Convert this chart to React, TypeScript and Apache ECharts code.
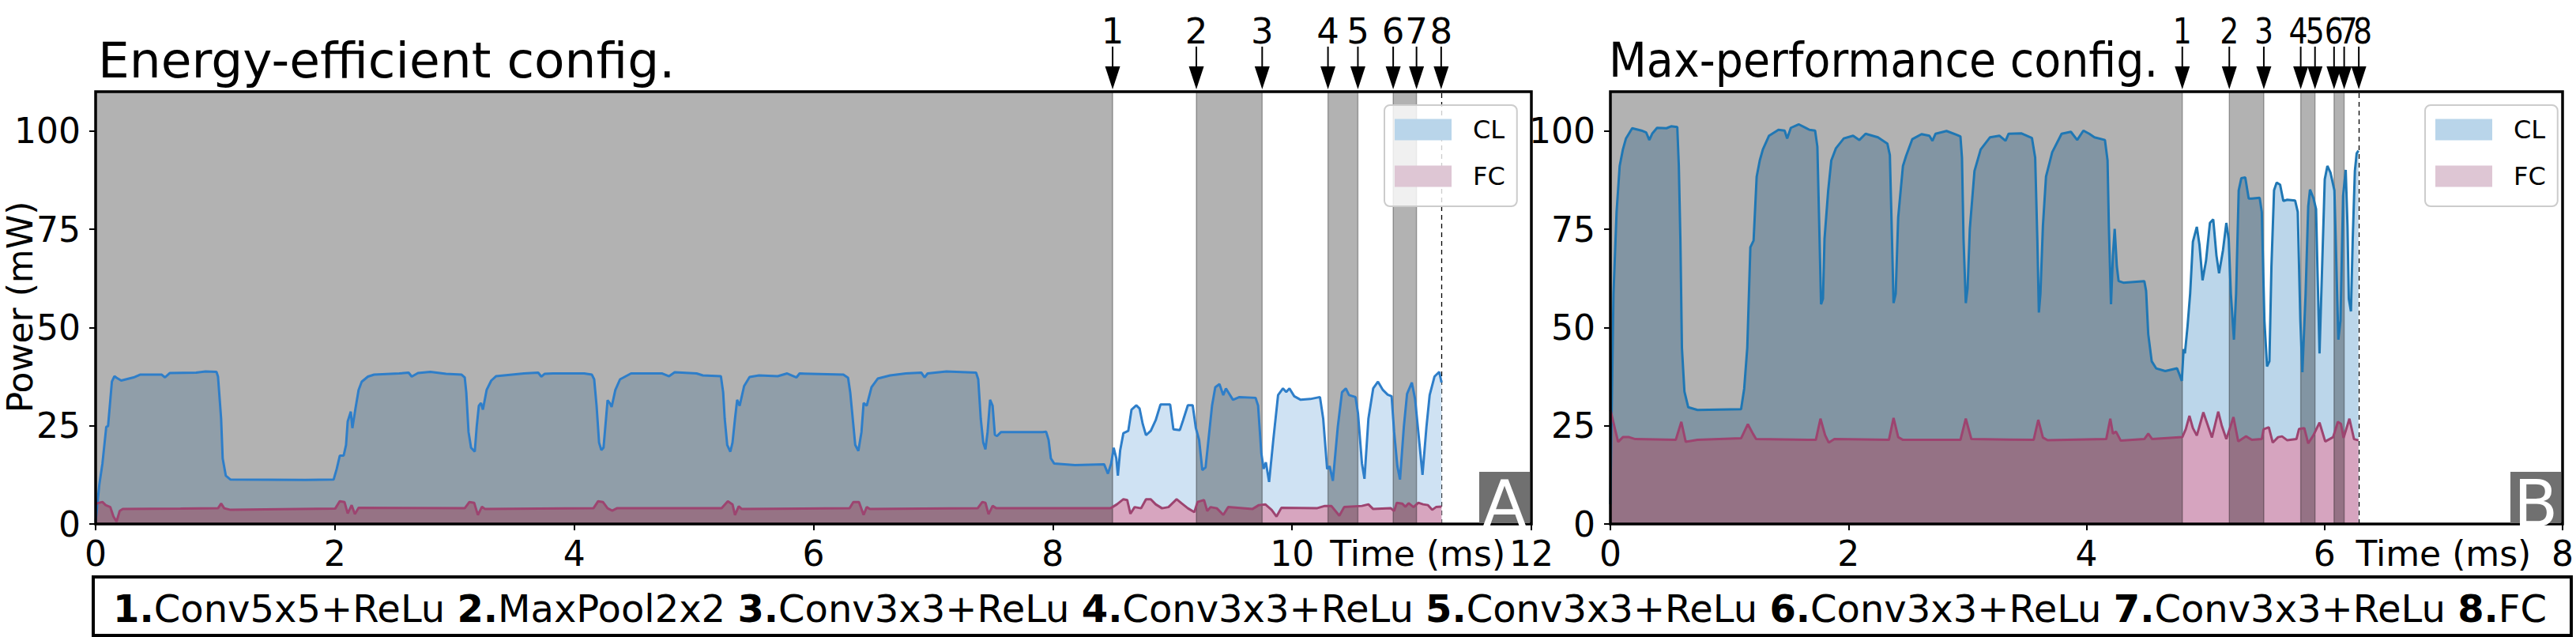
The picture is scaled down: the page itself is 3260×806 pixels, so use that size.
import React, { useEffect, useRef } from 'react';
import * as echarts from 'echarts';

const FONT = 'DejaVu Sans';

// ---------- data ----------
const layerNames = ['Conv5x5+ReLu', 'MaxPool2x2', 'Conv3x3+ReLu', 'Conv3x3+ReLu', 'Conv3x3+ReLu', 'Conv3x3+ReLu', 'Conv3x3+ReLu', 'FC'];
const leftLayerEnds = [8.5, 9.2, 9.75, 10.3, 10.55, 10.845, 11.04, 11.246];
const rightLayerEnds = [4.805, 5.2, 5.49, 5.8, 5.92, 6.08, 6.165, 6.288];
const yTicks = [0, 25, 50, 75, 100];
const seriesNames = ['CL', 'FC'];

const leftCL: [number, number][] = [
  [0, 0.6], [0.031, 10], [0.057, 15.4], [0.089, 24.7], [0.104, 24.9], [0.136, 36.2], [0.157, 37.6], [0.175, 37.2], [0.214, 36.5], [0.318, 37.3], [0.371, 38.0], [0.553, 38.0], [0.58, 37.3], [0.619, 38.4], [0.84, 38.5], [0.919, 38.8], [1.01, 38.7], [1.023, 37.5], [1.049, 26.8], [1.062, 16.7], [1.088, 12.3], [1.128, 11.3], [1.754, 11.2], [1.989, 11.3], [2.015, 14.0], [2.041, 17.4], [2.073, 17.4], [2.093, 20.1], [2.107, 26.1], [2.133, 28.6], [2.146, 24.4], [2.172, 29.4], [2.198, 34.1], [2.224, 36.2], [2.276, 37.5], [2.328, 38.0], [2.537, 38.3], [2.616, 38.5], [2.642, 37.5], [2.694, 38.4], [2.798, 38.7], [2.929, 38.2], [3.059, 38.0], [3.085, 37.3], [3.098, 33.5], [3.117, 23.4], [3.138, 19.4], [3.169, 18.4], [3.185, 24.7], [3.203, 30.1], [3.221, 30.8], [3.237, 29.1], [3.268, 34.1], [3.307, 36.5], [3.346, 37.6], [3.581, 38.3], [3.699, 38.5], [3.725, 37.5], [3.752, 38.2], [3.822, 38.3], [4.083, 38.3], [4.148, 38.0], [4.167, 36.8], [4.187, 30.1], [4.208, 20.7], [4.227, 18.8], [4.245, 19.4], [4.266, 26.8], [4.279, 31.5], [4.297, 30.8], [4.313, 29.8], [4.344, 34.1], [4.383, 36.8], [4.475, 38.3], [4.736, 38.3], [4.793, 37.6], [4.84, 38.6], [5.023, 38.3], [5.075, 37.8], [5.226, 37.6], [5.245, 33.5], [5.258, 26.8], [5.279, 20.1], [5.305, 18.4], [5.323, 20.7], [5.344, 26.8], [5.362, 31.6], [5.383, 30.1], [5.42, 35.1], [5.466, 37.4], [5.545, 37.8], [5.701, 37.6], [5.78, 38.3], [5.858, 37.3], [5.884, 38.3], [6.25, 38.0], [6.289, 37.2], [6.307, 33.5], [6.328, 26.8], [6.349, 20.1], [6.375, 18.6], [6.401, 23.4], [6.419, 30.8], [6.445, 30.1], [6.485, 34.8], [6.537, 37.0], [6.641, 37.8], [6.772, 38.3], [6.902, 38.5], [6.928, 37.3], [6.954, 38.3], [7.111, 38.8], [7.359, 38.5], [7.377, 36.8], [7.398, 26.8], [7.419, 20.7], [7.437, 19.0], [7.455, 23.4], [7.476, 31.6], [7.497, 30.1], [7.516, 22.7], [7.534, 22.4], [7.568, 23.4], [7.915, 23.4], [7.944, 23.5], [7.965, 21.4], [7.984, 16.7], [8.011, 15.4], [8.186, 15.0], [8.429, 15.2], [8.461, 12.8], [8.488, 15.4], [8.509, 19.4], [8.531, 16.7], [8.544, 12.3], [8.563, 18.7], [8.59, 23.1], [8.631, 23.7], [8.658, 29.1], [8.698, 30.2], [8.725, 29.4], [8.752, 25.4], [8.779, 22.6], [8.819, 23.7], [8.86, 26.4], [8.9, 30.4], [8.981, 30.4], [9.008, 24.1], [9.062, 23.9], [9.089, 26.4], [9.129, 30.2], [9.169, 30.2], [9.196, 24.4], [9.223, 21.4], [9.25, 13.7], [9.277, 14.4], [9.331, 30.1], [9.358, 34.8], [9.393, 35.6], [9.425, 32.8], [9.447, 34.5], [9.506, 31.6], [9.56, 32.3], [9.695, 32.1], [9.716, 30.1], [9.743, 18.0], [9.762, 14.0], [9.781, 15.7], [9.808, 10.7], [9.843, 21.4], [9.883, 32.8], [9.924, 34.5], [9.951, 33.6], [9.978, 34.5], [10.018, 32.5], [10.072, 31.6], [10.153, 31.8], [10.233, 32.3], [10.26, 26.8], [10.293, 14.0], [10.314, 14.7], [10.341, 11.0], [10.382, 24.7], [10.417, 33.5], [10.449, 34.5], [10.476, 32.8], [10.53, 32.3], [10.551, 28.1], [10.584, 15.4], [10.605, 11.5], [10.638, 26.8], [10.678, 34.5], [10.718, 36.2], [10.759, 34.1], [10.799, 32.9], [10.832, 32.5], [10.853, 23.4], [10.88, 14.7], [10.902, 11.3], [10.934, 24.7], [10.961, 33.1], [11.001, 36.0], [11.028, 31.8], [11.055, 23.4], [11.09, 12.5], [11.123, 24.7], [11.15, 32.8], [11.19, 37.5], [11.23, 38.7], [11.249, 36.0],
];

const leftFC: [number, number][] = [
  [0, 5.0], [0.018, 5.3], [0.057, 5.6], [0.084, 4.8], [0.123, 4.3], [0.149, 1.9], [0.175, 0.6], [0.201, 3.3], [0.227, 3.8], [0.71, 3.9], [1.023, 4.0], [1.049, 5.2], [1.075, 4.0], [1.128, 3.6], [2.002, 3.9], [2.041, 5.8], [2.08, 5.6], [2.107, 2.7], [2.14, 4.8], [2.167, 2.5], [2.198, 4.1], [3.085, 4.0], [3.124, 5.6], [3.164, 5.4], [3.195, 2.3], [3.229, 4.4], [3.255, 3.8], [4.161, 4.0], [4.2, 5.8], [4.24, 5.6], [4.279, 4.0], [4.318, 3.4], [4.357, 4.0], [5.232, 4.0], [5.284, 5.8], [5.323, 5.0], [5.344, 2.3], [5.375, 4.5], [5.401, 3.8], [6.302, 4.0], [6.333, 5.6], [6.38, 5.6], [6.419, 2.3], [6.445, 4.3], [6.471, 3.8], [7.372, 4.0], [7.411, 5.6], [7.437, 5.4], [7.463, 2.5], [7.497, 4.6], [7.528, 4.0], [8.482, 4.0], [8.536, 5.0], [8.59, 6.3], [8.622, 6.1], [8.649, 2.6], [8.684, 4.3], [8.738, 4.0], [8.779, 6.3], [8.819, 6.3], [8.86, 5.0], [8.913, 4.0], [8.967, 4.3], [9.035, 6.3], [9.075, 5.3], [9.129, 4.0], [9.183, 3.0], [9.21, 5.6], [9.264, 6.1], [9.291, 3.3], [9.318, 4.3], [9.371, 4.0], [9.425, 2.3], [9.466, 4.3], [9.668, 3.8], [9.722, 4.8], [9.776, 5.0], [9.829, 3.6], [9.87, 1.9], [9.91, 4.1], [10.206, 4.0], [10.274, 4.6], [10.328, 4.6], [10.395, 2.1], [10.435, 4.3], [10.584, 4.6], [10.638, 5.0], [10.678, 3.8], [10.826, 4.0], [10.853, 3.3], [10.875, 5.4], [10.92, 5.2], [10.947, 4.4], [10.974, 5.3], [11.015, 4.3], [11.055, 5.4], [11.095, 5.0], [11.136, 4.8], [11.171, 3.6], [11.203, 4.3], [11.249, 4.4],
];

const rightCL: [number, number][] = [
  [0, 5], [0.005, 17.2], [0.026, 58.6], [0.052, 79.4], [0.078, 91.1], [0.105, 95.3], [0.131, 98.1], [0.183, 100.7], [0.261, 100.1], [0.301, 99.6], [0.327, 97.7], [0.353, 99.4], [0.392, 100.8], [0.471, 100.7], [0.51, 101.2], [0.562, 101.0], [0.575, 91.1], [0.588, 72.5], [0.601, 44.8], [0.622, 33.7], [0.654, 29.7], [0.732, 29.0], [1.098, 29.2], [1.124, 34.4], [1.15, 44.8], [1.176, 70.4], [1.203, 72.1], [1.229, 88.4], [1.255, 92.5], [1.281, 95.3], [1.333, 98.8], [1.412, 100.3], [1.464, 100.1], [1.485, 98.1], [1.516, 100.8], [1.582, 101.7], [1.673, 100.3], [1.72, 100.1], [1.739, 96.0], [1.752, 79.4], [1.77, 55.9], [1.786, 57.3], [1.799, 72.5], [1.83, 84.9], [1.856, 92.5], [1.895, 95.6], [1.961, 98.1], [2.039, 98.8], [2.092, 97.7], [2.144, 99.3], [2.248, 98.4], [2.327, 96.8], [2.348, 93.9], [2.366, 72.5], [2.379, 56.2], [2.397, 58.6], [2.418, 78.0], [2.458, 91.1], [2.484, 93.6], [2.536, 97.9], [2.614, 99.2], [2.68, 98.8], [2.706, 97.5], [2.732, 99.3], [2.824, 100.0], [2.902, 99.1], [2.941, 98.6], [2.954, 93.2], [2.967, 72.5], [2.986, 56.2], [3.001, 60.0], [3.02, 75.2], [3.059, 89.8], [3.111, 95.3], [3.19, 98.4], [3.268, 98.8], [3.32, 97.5], [3.346, 99.3], [3.451, 99.4], [3.542, 98.2], [3.569, 93.2], [3.587, 72.5], [3.6, 53.8], [3.613, 58.6], [3.634, 75.9], [3.66, 88.4], [3.712, 94.6], [3.791, 99.3], [3.869, 99.8], [3.922, 97.7], [3.974, 100.1], [4.023, 99.3], [4.067, 98.4], [4.155, 97.7], [4.177, 92.5], [4.188, 75.9], [4.206, 55.9], [4.222, 68.3], [4.237, 75.1], [4.255, 65.6], [4.27, 61.8], [4.31, 61.4], [4.486, 61.8], [4.501, 59.3], [4.519, 48.3], [4.548, 41.4], [4.585, 39.6], [4.662, 38.9], [4.761, 39.6], [4.783, 37.9], [4.801, 36.4], [4.816, 44.5], [4.827, 43.4], [4.849, 50.3], [4.871, 58.6], [4.894, 71.8], [4.927, 75.6], [4.949, 71.1], [4.975, 62.0], [5.004, 66.9], [5.037, 76.6], [5.065, 77.5], [5.092, 68.3], [5.114, 63.8], [5.147, 69.7], [5.175, 76.6], [5.195, 72.5], [5.213, 58.6], [5.239, 46.9], [5.257, 58.6], [5.279, 84.9], [5.301, 88.0], [5.334, 88.2], [5.363, 82.8], [5.389, 82.8], [5.455, 83.0], [5.473, 79.4], [5.495, 51.7], [5.517, 40.1], [5.537, 41.4], [5.554, 65.6], [5.576, 84.9], [5.598, 86.9], [5.627, 86.3], [5.654, 82.2], [5.687, 82.5], [5.753, 82.3], [5.775, 79.4], [5.797, 51.7], [5.814, 38.6], [5.841, 58.6], [5.863, 80.8], [5.878, 85.1], [5.907, 82.9], [5.929, 80.1], [5.94, 65.6], [5.958, 43.4], [5.98, 65.6], [6.002, 87.7], [6.024, 91.1], [6.05, 89.4], [6.083, 84.9], [6.094, 72.5], [6.116, 46.9], [6.134, 51.7], [6.156, 83.5], [6.178, 90.1], [6.193, 75.9], [6.204, 57.3], [6.222, 54.1], [6.237, 72.5], [6.255, 89.8], [6.27, 94.3], [6.285, 95.0],
];

const rightFC: [number, number][] = [
  [0, 29.0], [0.005, 28.5], [0.039, 24.1], [0.065, 20.9], [0.105, 22.1], [0.157, 22.1], [0.209, 21.6], [0.549, 21.4], [0.596, 26.0], [0.633, 20.9], [0.732, 21.4], [1.098, 21.8], [1.155, 25.4], [1.197, 23.0], [1.224, 21.6], [1.726, 21.4], [1.765, 26.8], [1.804, 22.6], [1.835, 20.7], [1.882, 21.6], [2.34, 21.4], [2.379, 27.0], [2.418, 22.1], [2.458, 21.4], [2.941, 21.4], [2.986, 26.8], [3.033, 21.6], [3.556, 21.4], [3.595, 26.5], [3.634, 22.0], [3.673, 21.3], [4.166, 21.6], [4.2, 26.8], [4.222, 23.0], [4.248, 23.5], [4.288, 21.2], [4.486, 21.6], [4.519, 23.0], [4.552, 21.6], [4.805, 22.1], [4.834, 24.1], [4.865, 27.5], [4.894, 24.4], [4.927, 22.5], [4.982, 28.4], [5.015, 25.5], [5.054, 22.0], [5.107, 28.6], [5.136, 25.1], [5.175, 21.6], [5.235, 27.2], [5.275, 21.0], [5.341, 22.3], [5.389, 21.4], [5.473, 21.6], [5.488, 24.1], [5.532, 24.6], [5.565, 20.7], [5.61, 22.1], [5.643, 22.3], [5.687, 21.3], [5.764, 21.6], [5.786, 24.2], [5.83, 24.4], [5.863, 20.5], [5.907, 22.6], [5.958, 25.8], [6.006, 21.0], [6.072, 22.1], [6.112, 26.0], [6.138, 25.5], [6.16, 21.9], [6.209, 26.8], [6.248, 21.6], [6.285, 21.3],
];

const panels = [
  { title: 'Energy-efficient config.', tag: 'A', xMax: 12, timeLabelAt: 11.05, cl: leftCL, fc: leftFC, ends: leftLayerEnds },
  { title: 'Max-performance config.', tag: 'B', xMax: 8, timeLabelAt: 7.0, cl: rightCL, fc: rightFC, ends: rightLayerEnds },
];

// ---------- styles / layout ----------
const Y_MAX = 110;
const styles = [
  { grid: { left: 121, top: 116, width: 1817, height: 547 }, clLine: '#2e7ec9', clFill: '#cfe2f3', fcLine: '#9d4470', fcFill: '#d7a5bf', titleSize: 63, titleScaleX: 1, titleDx: 3, numScaleX: 1, numDx: [0, 0, 0, 0, 0, 0, 0, 0], legendLeft: 1752 },
  { grid: { left: 2038, top: 116, width: 1211, height: 547 }, clLine: '#1f77b4', clFill: '#bbd6ea', fcLine: '#9d4470', fcFill: '#d6a4bf', titleSize: 60, titleScaleX: 0.925, titleDx: -2, numScaleX: 0.84, numDx: [0, 0, 0, -3, 0, 0, 5, 5], legendLeft: 3069 },
];
const legendPatch = { CL: '#b9d5ea', FC: '#dec6d4' } as Record<string, string>;

function buildOption(): any {
  const series: any[] = [];
  panels.forEach((p, i) => {
    const st = styles[i];
    const ax = { xAxisIndex: i, yAxisIndex: i };
    const bands: any[] = [];
    p.ends.forEach((e, k) => {
      if (k % 2 === 0) bands.push([{ xAxis: k === 0 ? 0 : p.ends[k - 1] }, { xAxis: e }]);
    });
    series.push({
      type: 'line', ...ax, data: [], z: 1, silent: true,
      markLine: {
        z: 1, silent: true, symbol: ['none', 'none'], label: { show: false },
        lineStyle: { color: '#000', type: [6, 5], width: 1.3 },
        data: [{ xAxis: p.ends[p.ends.length - 1] }],
      },
    });
    series.push({ type: 'line', name: 'CL', ...ax, data: p.cl, symbol: 'none', showSymbol: false, silent: true, z: 2, lineStyle: { width: 0 }, areaStyle: { color: st.clFill, opacity: 1 } });
    series.push({ type: 'line', name: 'FC', ...ax, data: p.fc, symbol: 'none', showSymbol: false, silent: true, z: 3, lineStyle: { width: 0 }, areaStyle: { color: st.fcFill, opacity: 1 } });
    series.push({
      type: 'line', ...ax, data: [], z: 4, silent: true,
      markArea: {
        z: 4, silent: true, label: { show: false },
        itemStyle: { color: 'rgba(0,0,0,0.3)', borderColor: 'rgba(0,0,0,0.3)', borderWidth: 1.5 },
        data: bands,
      },
    });
    series.push({ type: 'line', name: 'CL', ...ax, data: p.cl, symbol: 'none', showSymbol: false, silent: true, z: 5, lineStyle: { color: st.clLine, width: 3 } });
    series.push({ type: 'line', name: 'FC', ...ax, data: p.fc, symbol: 'none', showSymbol: false, silent: true, z: 6, lineStyle: { color: st.fcLine, width: 3 } });
  });

  const axisLabel = { color: '#000', fontSize: 44, fontFamily: FONT };
  return {
    animation: false,
    backgroundColor: '#fff',
    grid: styles.map((s) => ({ ...s.grid, containLabel: false })),
    xAxis: panels.map((p, i) => ({
      type: 'value', gridIndex: i, min: 0, max: p.xMax, interval: 2,
      axisLine: { show: false },
      axisTick: { show: true, inside: false, length: 8, lineStyle: { color: '#000', width: 2 } },
      axisLabel: { ...axisLabel, margin: 15 },
      splitLine: { show: false },
      z: 10,
    })),
    yAxis: panels.map((p, i) => ({
      type: 'value', gridIndex: i, min: 0, max: Y_MAX, interval: 25,
      axisLine: { show: false },
      axisTick: { show: true, inside: false, length: 8, lineStyle: { color: '#000', width: 2 }, customValues: yTicks },
      axisLabel: { ...axisLabel, margin: 19, customValues: yTicks, formatter: (v: number) => (yTicks.includes(v) ? String(v) : '') },
      splitLine: { show: false },
      z: 10,
    })),
    legend: styles.map((s) => ({
      orient: 'vertical', left: s.legendLeft, top: 133, z: 20,
      selectedMode: false,
      itemWidth: 72, itemHeight: 27, itemGap: 27,
      padding: [15, 15, 22, 13],
      backgroundColor: 'rgba(255,255,255,0.8)', borderColor: '#cccccc', borderWidth: 2, borderRadius: 7,
      itemStyle: { borderWidth: 0 },
      textStyle: { color: '#000', fontSize: 32, fontFamily: FONT, lineHeight: 27, padding: [0, 0, 0, 22] },
      data: seriesNames.map((n) => ({ name: n, icon: 'rect', itemStyle: { color: legendPatch[n], borderWidth: 0 } })),
    })),
    series,
  };
}

function txt(text: string, x: number, y: number, fontSize: number, extra: any = {}, styleExtra: any = {}): any {
  return {
    type: 'text', x, y, silent: true, z: 40, ...extra,
    style: {
      text, fontSize, fontFamily: FONT, fill: '#000',
      textAlign: 'center', align: 'center', textVerticalAlign: 'middle', verticalAlign: 'middle',
      ...styleExtra,
    },
  };
}

function buildGraphics(chart: any): any[] {
  const g: any[] = [];
  panels.forEach((p, i) => {
    const st = styles[i];
    const px = (x: number, y: number) => chart.convertToPixel({ gridIndex: i }, [x, y]) as number[];
    const [gl, gt] = px(0, Y_MAX);
    const [gr, gb] = px(p.xMax, 0);
    g.push({ type: 'rect', silent: true, z: 30, shape: { x: gl, y: gt, width: gr - gl, height: gb - gt }, style: { fill: 'none', stroke: '#000', lineWidth: 3.5 } });
    // title
    g.push(txt(p.title, gl + st.titleDx, 76, st.titleSize, { scaleX: st.titleScaleX }, { textAlign: 'left', align: 'left' }));
    // arrows and layer numbers
    p.ends.forEach((e, k) => {
      const [ax] = px(e, 0);
      g.push({ type: 'line', silent: true, z: 40, shape: { x1: ax, y1: 59, x2: ax, y2: 90 }, style: { stroke: '#000', lineWidth: 2 } });
      g.push({ type: 'polygon', silent: true, z: 40, shape: { points: [[ax - 9.5, 84], [ax + 9.5, 84], [ax, 113]] }, style: { fill: '#000' } });
      g.push(txt(String(k + 1), ax + st.numDx[k], 39.5, 45, { scaleX: st.numScaleX }));
    });
    // tag box
    g.push({ type: 'rect', silent: true, z: 35, shape: { x: gr - 66, y: gb - 66, width: 64, height: 65 }, style: { fill: '#707070' } });
    g.push(txt(p.tag, gr - 34, gb - 26, 82, {}, { fill: '#fff' }));
    // time label
    const [tx] = px(p.timeLabelAt, 0);
    g.push(txt('Time (ms)', tx, gb + 37, 44));
  });
  // y axis name
  const [, yc] = chart.convertToPixel({ gridIndex: 0 }, [0, Y_MAX / 2]);
  g.push(txt('Power (mW)', 25, yc - 1, 44, { rotation: Math.PI / 2 }));
  // layer legend box
  g.push({ type: 'rect', silent: true, z: 30, shape: { x: 118, y: 730, width: 3136, height: 74 }, style: { fill: '#fff', stroke: '#000', lineWidth: 4 } });
  const legendText = layerNames.map((n, k) => `{b|${k + 1}.}${n}`).join(' ');
  g.push(txt(legendText, 1683, 770, 48, {}, {
    rich: { b: { fontWeight: 'bold', fontSize: 48, fontFamily: FONT, fill: '#000', color: '#000' } },
  }));
  return g;
}

export default function App() {
  const ref = useRef<HTMLDivElement>(null);
  useEffect(() => {
    document.body.style.margin = '0';
    const chart = echarts.init(ref.current!, null, { renderer: 'svg' });
    chart.setOption(buildOption());
    chart.setOption({ graphic: buildGraphics(chart) });
    return () => chart.dispose();
  }, []);
  return <div ref={ref} style={{ width: 3260, height: 806, background: '#fff' }} />;
}
